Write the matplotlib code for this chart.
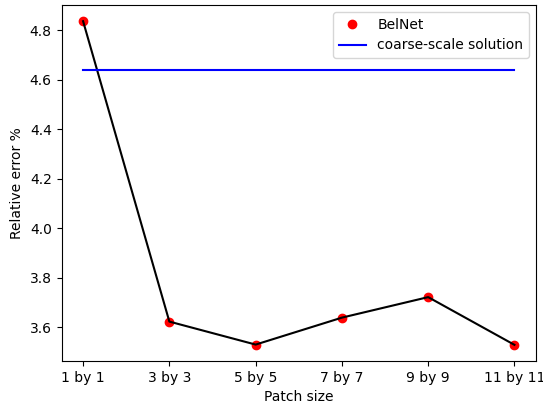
import matplotlib
matplotlib.use("Agg")
import matplotlib.pyplot as plt
import numpy as np

patch_labels = ["1 by 1", "3 by 3", "5 by 5", "7 by 7", "9 by 9", "11 by 11"]
belnet_error = [4.837, 3.622, 3.529, 3.638, 3.721, 3.528]
coarse_error = 4.641

fig = plt.figure(figsize=(5.43, 4.05), dpi=100)
ax = fig.add_axes([0.1133, 0.1086, 0.8738, 0.879])

x = np.arange(len(patch_labels))
ax.plot(x, belnet_error, "ro", label="BelNet")
ax.plot(x, belnet_error, "k-")
ax.plot(x, [coarse_error] * len(x), "b-", label="coarse-scale solution")

ax.set_xticks(x)
ax.set_xticklabels(patch_labels)
ax.set_xlabel("Patch size")
ax.set_ylabel("Relative error %")
ax.legend(loc="upper right")

fig.savefig("out.png", dpi=100)
